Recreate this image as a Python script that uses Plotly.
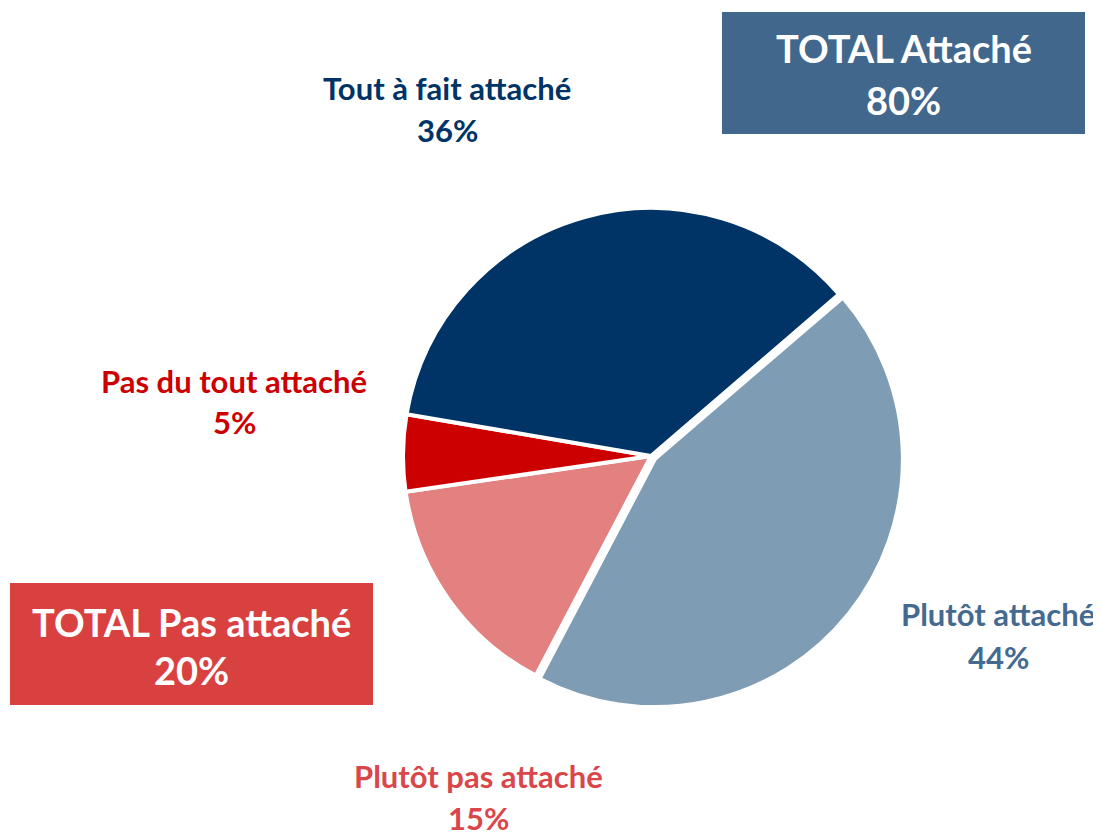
import plotly.graph_objects as go

# Figure is placed by the page with an 8px body margin
OFF = 8
W, H = 1101, 832

categories = ["Plutôt attaché", "Plutôt pas attaché", "Pas du tout attaché", "Tout à fait attaché"]
values = [44, 15, 5, 36]
slice_colors = ["#7F9CB5", "#E38180", "#CC0000", "#003366"]
label_colors = ["#456A90", "#D9474A", "#CC0000", "#003366"]
pulls = [0.02, 0, 0, 0]

totals_labels = ["TOTAL Attaché", "TOTAL Pas attaché"]
totals_values = [80, 20]
totals_colors = ["#41678D", "#D94040"]

FONT = "Lato"

def px(x):
    return (x - OFF) / W

def py(y):
    return 1 - (y - OFF) / H

fig = go.Figure()

cx, cy, r = 651, 456, 248 * 1.02
fig.add_trace(go.Pie(
    labels=categories,
    values=values,
    sort=False,
    direction="clockwise",
    rotation=49.3,
    pull=pulls,
    marker=dict(colors=slice_colors, line=dict(color="white", width=4)),
    textinfo="none",
    hoverinfo="label+percent",
    showlegend=False,
    domain=dict(x=[px(cx - r), px(cx + r)], y=[py(cy + r), py(cy - r)]),
))

# label positions (pixel centers of the two lines)
label_pos = {
    "Plutôt attaché": (998, 614, 657),
    "Plutôt pas attaché": (478, 776, 818),
    "Pas du tout attaché": (234, 381, 422),
    "Tout à fait attaché": (447, 88, 130),
}

annotations = []
for cat, val, col in zip(categories, values, label_colors):
    x, y1, y2 = label_pos[cat]
    for txt, yy in ((cat, y1), (f"{val}%", y2)):
        annotations.append(dict(
            x=px(x), y=py(yy), xref="paper", yref="paper",
            text=f"<b>{txt}</b>", showarrow=False,
            xanchor="center", yanchor="middle",
            font=dict(family=FONT, size=31, color=col),
        ))

boxes = [(722, 12, 1085, 134, 48, 100), (10, 583, 373, 705, 622, 670)]
shapes = []
for lab, val, col, (x0, y0, x1, y1, t1, t2) in zip(totals_labels, totals_values, totals_colors, boxes):
    shapes.append(dict(type="rect", xref="paper", yref="paper",
                       x0=px(x0), x1=px(x1), y0=py(y1), y1=py(y0),
                       fillcolor=col, line=dict(width=0), layer="below"))
    xc = (x0 + x1) / 2
    for txt, yy in ((lab, t1), (f"{val}%", t2)):
        annotations.append(dict(
            x=px(xc), y=py(yy), xref="paper", yref="paper",
            text=f"<b>{txt}</b>", showarrow=False,
            xanchor="center", yanchor="middle",
            font=dict(family=FONT, size=38, color="white"),
        ))

fig.update_layout(
    width=W, height=H,
    margin=dict(l=0, r=0, t=0, b=0),
    paper_bgcolor="white", plot_bgcolor="white",
    annotations=annotations, shapes=shapes,
)

fig.write_html("out.html")
